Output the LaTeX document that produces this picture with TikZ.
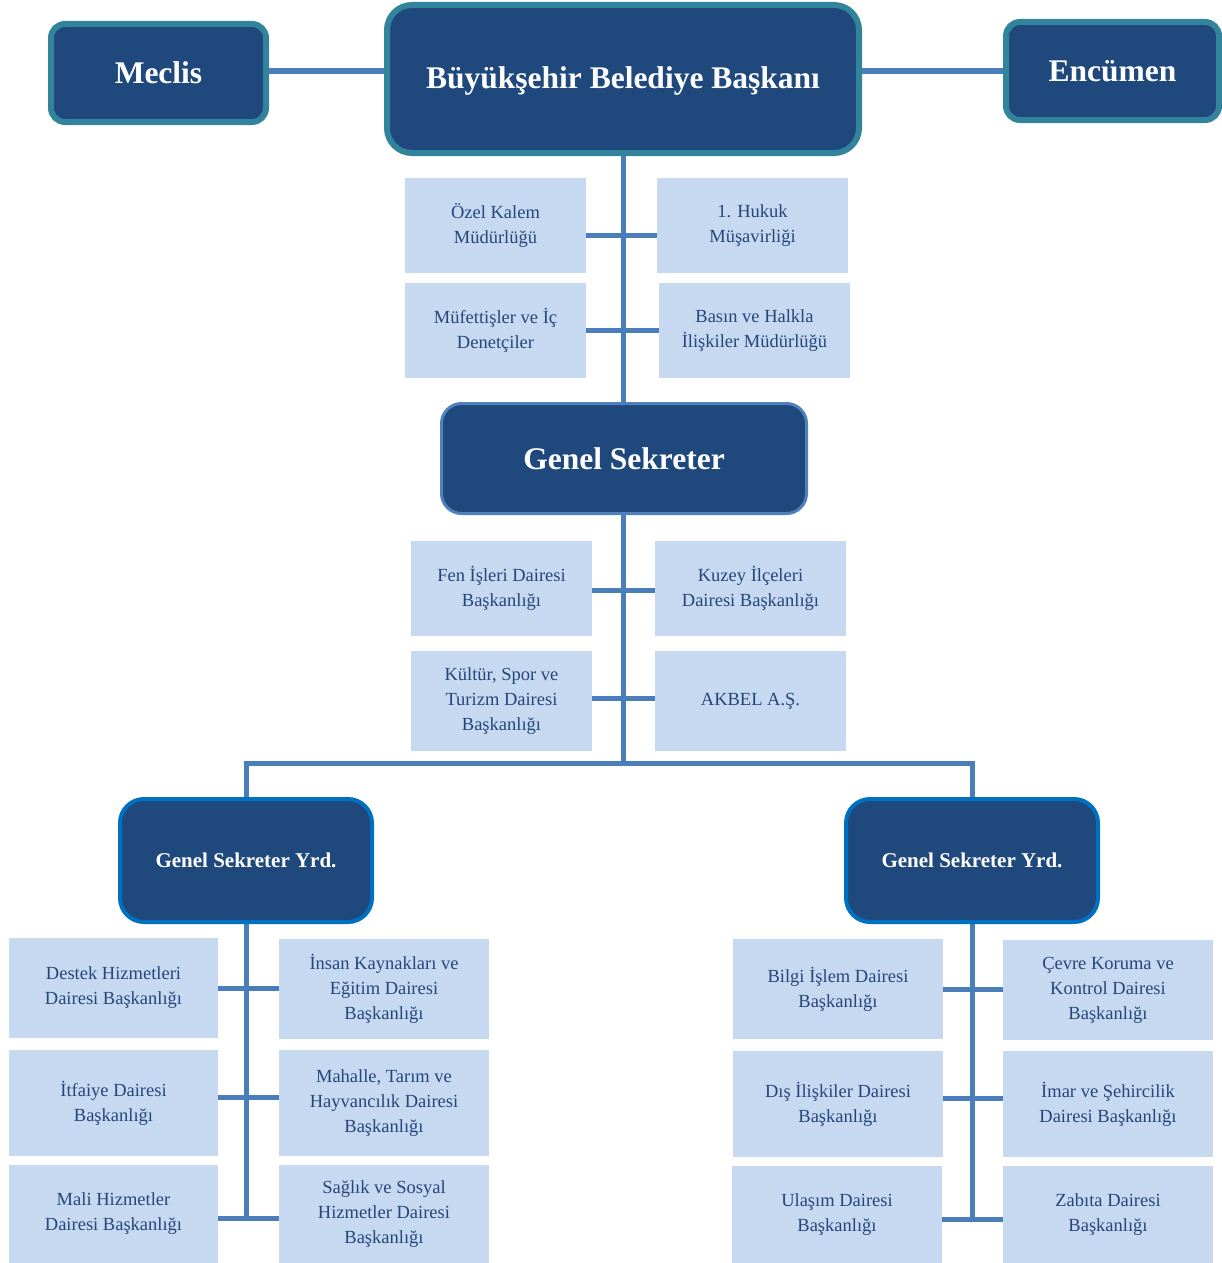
\documentclass[tikz,border=0pt]{standalone}
\usepackage{fontspec}
\setmainfont{Liberation Serif}
\usetikzlibrary{backgrounds}
\definecolor{navyfill}{HTML}{1F497D}
\definecolor{tealline}{HTML}{31849B}
\definecolor{gsline}{HTML}{4F81BD}
\definecolor{yrdline}{HTML}{0070C0}
\definecolor{unitfill}{HTML}{C6D9F1}
\definecolor{unittext}{HTML}{26467A}
\definecolor{connc}{HTML}{4A7EBB}
\newcommand\orgbox[7]{\node[#6, minimum width={#4-#2}, minimum height={#5-#3}] (#1) at ({(#2+#4)/2},{(#3+#5)/2}) {#7};}
\tikzset{
  head/.style={fill=navyfill, text=white, inner sep=0pt, align=center, font=\bfseries\fontsize{31.5}{36}\selectfont},
  tealhead/.style={head, draw=tealline, line width=6pt, rounded corners=14pt},
  gshead/.style={head, draw=gsline, line width=3pt, rounded corners=20pt},
  yrdhead/.style={head, draw=yrdline, line width=4pt, rounded corners=24pt, font=\bfseries\fontsize{21}{25}\selectfont},
  unitbox/.style={fill=unitfill, text=unittext, inner sep=0pt, align=center, font=\fontsize{18.5}{25}\selectfont},
  conn/.style={draw=connc, line width=5pt, line join=miter}
}
\begin{document}
\begin{tikzpicture}[x=1pt,y=-1pt]
\useasboundingbox (0,0) rectangle (1222,1263);
% top level
\orgbox{meclis}{51}{24}{266}{122}{tealhead}{Meclis}
\orgbox{bask}{387}{5}{859}{153}{tealhead, rounded corners=25pt, text depth=3pt}{Büyükşehir Belediye Başkanı}
\orgbox{encumen}{1006}{22}{1219}{120}{tealhead}{Encümen}
% units under Başkan
\orgbox{ozel}{405}{178}{586}{273}{unitbox}{Özel Kalem\\Müdürlüğü}
\orgbox{hukuk}{657}{178}{848}{273}{unitbox}{1. Hukuk\\Müşavirliği}
\orgbox{muf}{405}{283}{586}{378}{unitbox}{Müfettişler ve İç\\Denetçiler}
\orgbox{basin}{659}{283}{850}{378}{unitbox}{Basın ve Halkla\\İlişkiler Müdürlüğü}
% Genel Sekreter
\orgbox{gs}{441.5}{403.5}{806.5}{513.5}{gshead}{Genel Sekreter}
\orgbox{fen}{411}{541}{592}{636}{unitbox}{Fen İşleri Dairesi\\Başkanlığı}
\orgbox{kuzey}{655}{541}{846}{636}{unitbox}{Kuzey İlçeleri\\Dairesi Başkanlığı}
\orgbox{kultur}{411}{651}{592}{751}{unitbox}{Kültür, Spor ve\\Turizm Dairesi\\Başkanlığı}
\orgbox{akbel}{655}{651}{846}{751}{unitbox}{AKBEL A.Ş.}
% Yardımcılar
\orgbox{gsyl}{120}{799}{372}{922}{yrdhead}{Genel Sekreter Yrd.}
\orgbox{gsyr}{846}{799}{1098}{922}{yrdhead}{Genel Sekreter Yrd.}
% left group
\orgbox{destek}{9}{938}{218}{1038}{unitbox}{Destek Hizmetleri\\Dairesi Başkanlığı}
\orgbox{insan}{279}{939}{489}{1039}{unitbox}{İnsan Kaynakları ve\\Eğitim Dairesi\\Başkanlığı}
\orgbox{itfaiye}{9}{1050}{218}{1156}{unitbox}{İtfaiye Dairesi\\Başkanlığı}
\orgbox{mahalle}{279}{1050}{489}{1156}{unitbox}{Mahalle, Tarım ve\\Hayvancılık Dairesi\\Başkanlığı}
\orgbox{mali}{9}{1165}{218}{1263}{unitbox}{Mali Hizmetler\\Dairesi Başkanlığı}
\orgbox{saglik}{279}{1165}{489}{1263}{unitbox}{Sağlık ve Sosyal\\Hizmetler Dairesi\\Başkanlığı}
% right group
\orgbox{bilgi}{733}{939}{943}{1039}{unitbox}{Bilgi İşlem Dairesi\\Başkanlığı}
\orgbox{cevre}{1003}{940}{1213}{1040}{unitbox}{Çevre Koruma ve\\Kontrol Dairesi\\Başkanlığı}
\orgbox{dis}{733}{1051}{943}{1157}{unitbox}{Dış İlişkiler Dairesi\\Başkanlığı}
\orgbox{imar}{1003}{1051}{1213}{1157}{unitbox}{İmar ve Şehircilik\\Dairesi Başkanlığı}
\orgbox{ulasim}{732}{1166}{942}{1263}{unitbox}{Ulaşım Dairesi\\Başkanlığı}
\orgbox{zabita}{1003}{1166}{1213}{1263}{unitbox}{Zabıta Dairesi\\Başkanlığı}
\coordinate (bus) at (623,763);
\coordinate (lbot) at (246,1218);
\coordinate (rbot) at (972,1219);
\begin{pgfonlayer}{background}
\draw[conn] (meclis.east |- 0,71) -- (bask.west |- 0,71);
\draw[conn] (bask.east |- 0,71) -- (encumen.west |- 0,71);
\draw[conn] (bask.south) -- (bask.south |- gs.north);
\draw[conn] (ozel.east |- 0,235) -- (hukuk.west |- 0,235);
\draw[conn] (muf.east |- 0,330) -- (basin.west |- 0,330);
\draw[conn] (gs.south -| bus) -- (bus);
\draw[conn] (fen.east |- 0,590) -- (kuzey.west |- 0,590);
\draw[conn] (kultur.east |- 0,698) -- (akbel.west |- 0,698);
\draw[conn] (gsyl.north) -- (gsyl.north |- bus) -- (gsyr.north |- bus) -- (gsyr.north);
\draw[conn] (gsyl.south) -- (gsyl.south |- lbot);
\draw[conn] (destek.east |- 0,988) -- (insan.west |- 0,988);
\draw[conn] (itfaiye.east |- 0,1097) -- (mahalle.west |- 0,1097);
\draw[conn] (mali.east |- lbot) -- (saglik.west |- lbot);
\draw[conn] (gsyr.south) -- (gsyr.south |- rbot);
\draw[conn] (bilgi.east |- 0,989) -- (cevre.west |- 0,989);
\draw[conn] (dis.east |- 0,1098) -- (imar.west |- 0,1098);
\draw[conn] (ulasim.east |- rbot) -- (zabita.west |- rbot);
\end{pgfonlayer}
\end{tikzpicture}
\end{document}
